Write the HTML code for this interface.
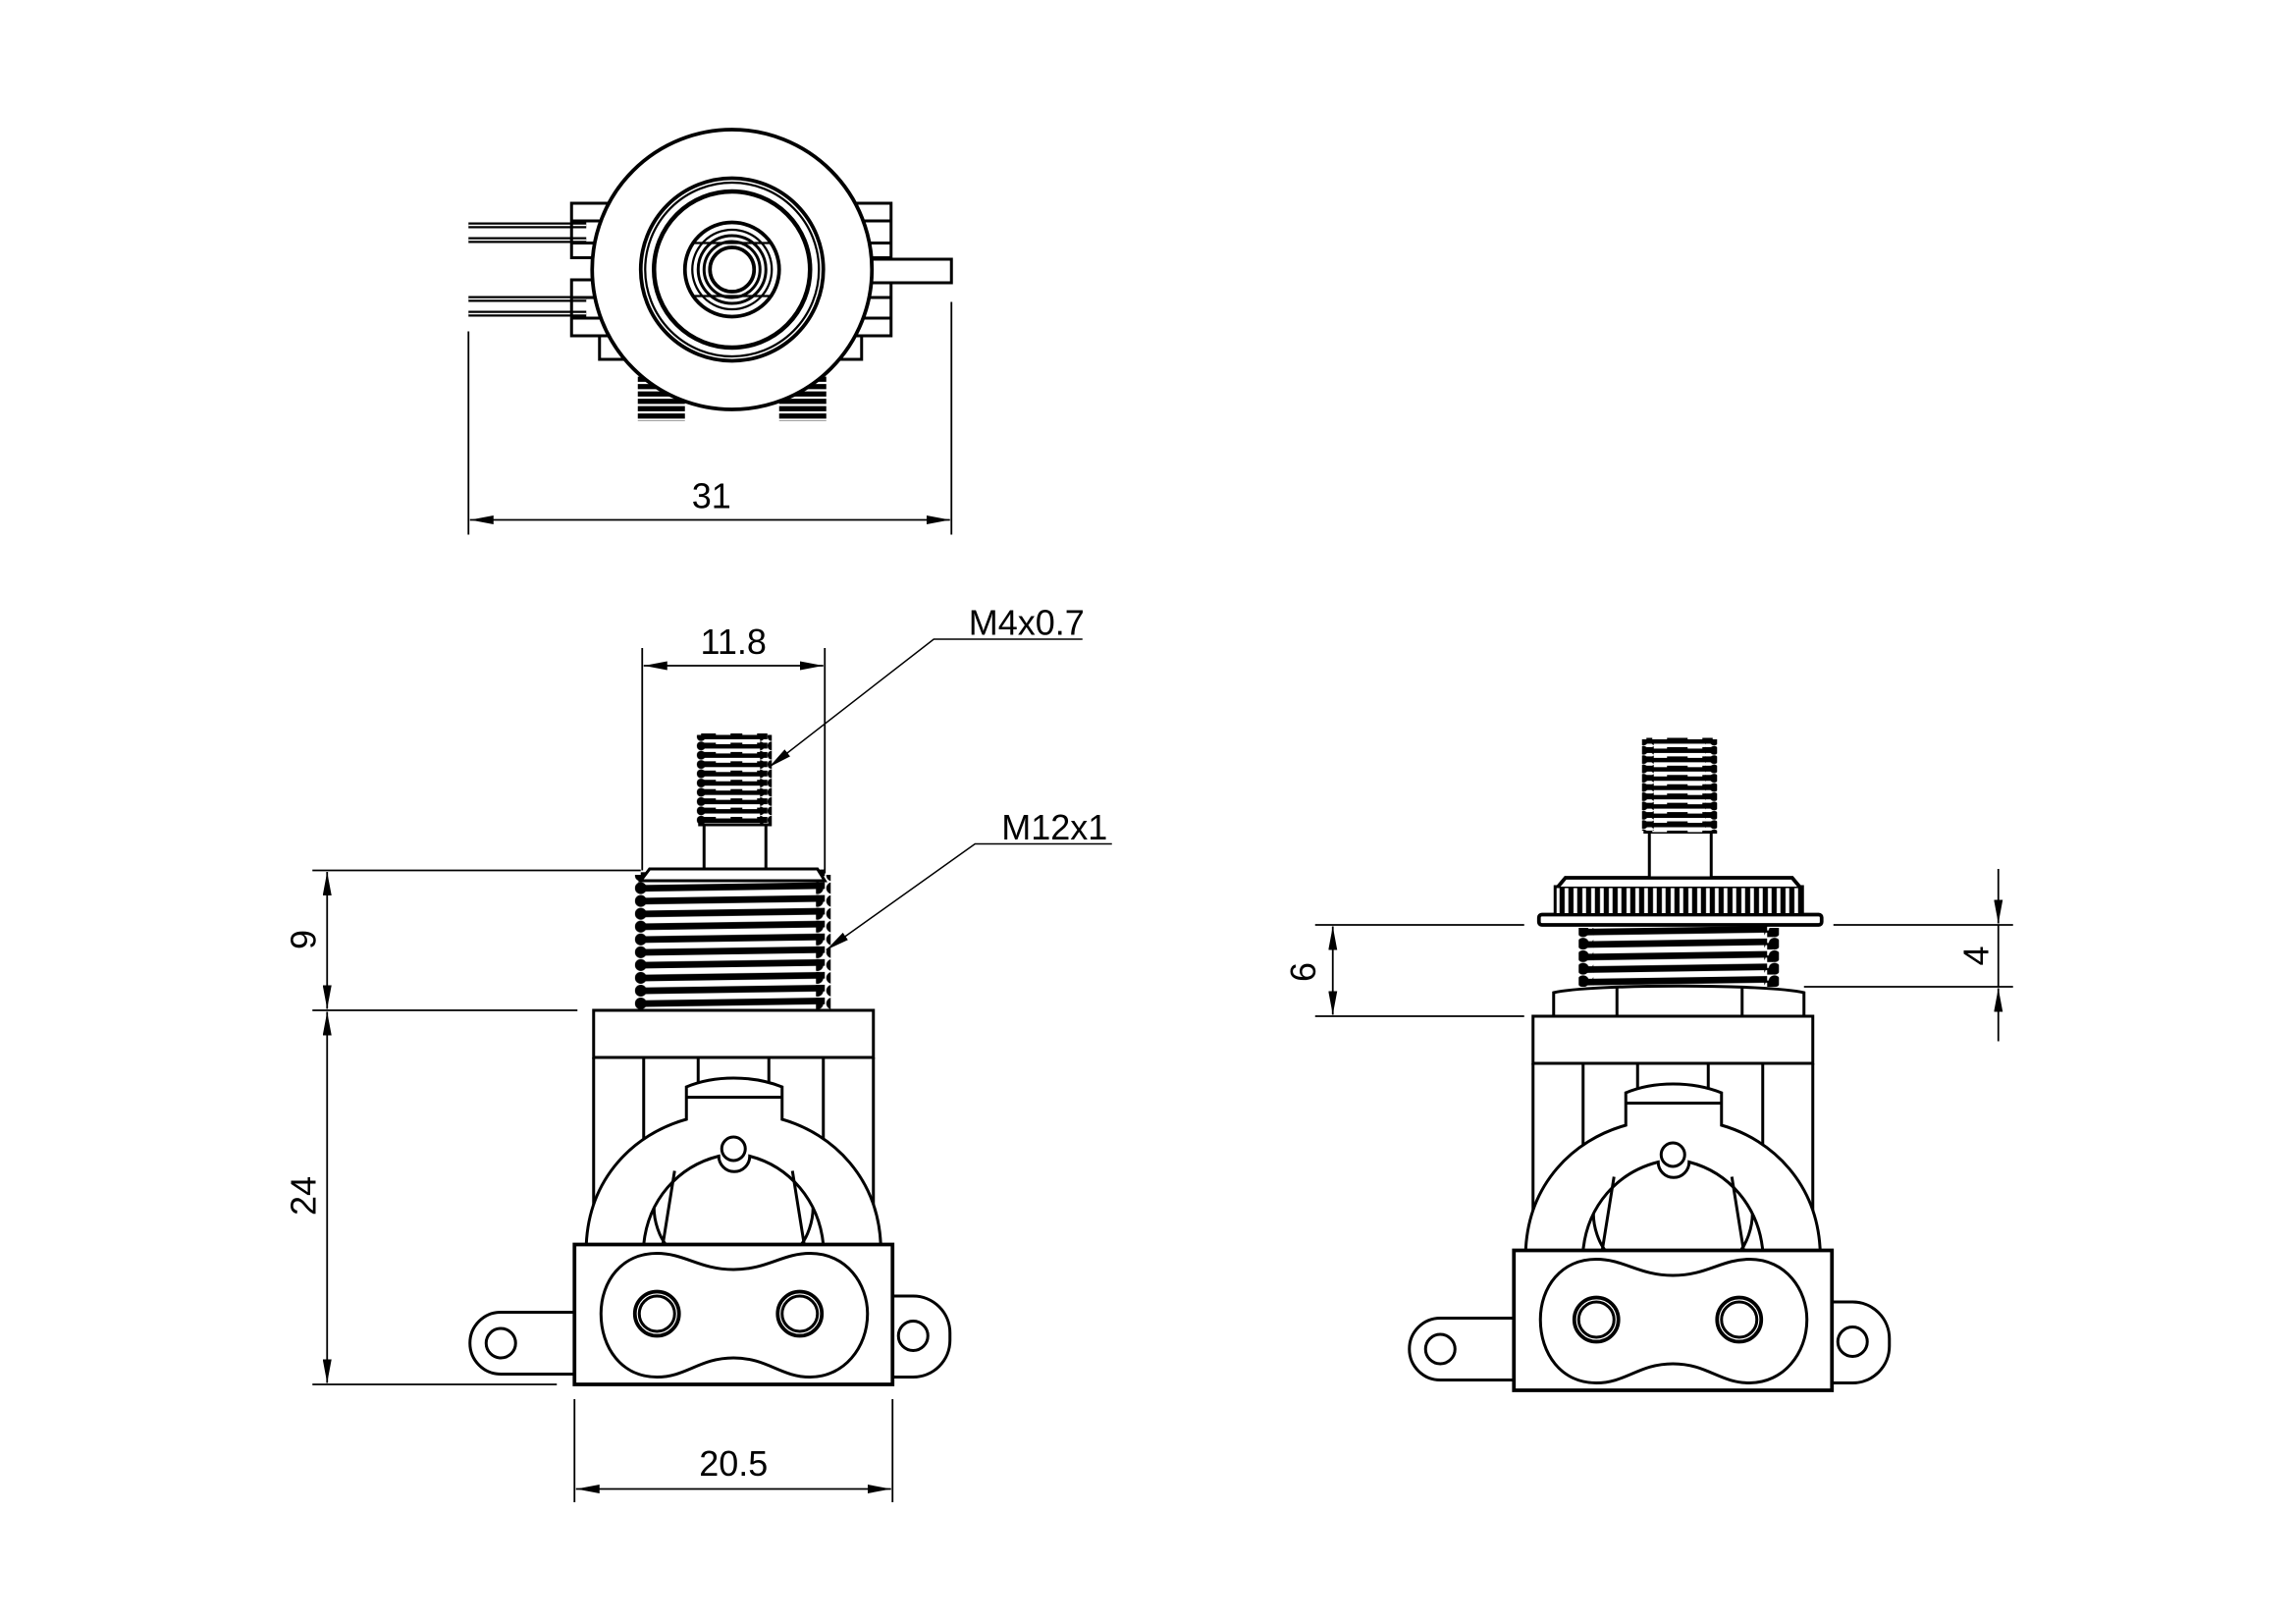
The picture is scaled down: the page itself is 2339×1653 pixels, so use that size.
<!DOCTYPE html>
<html><head><meta charset="utf-8">
<style>
html,body{margin:0;padding:0;background:#fff;}
svg{display:block;}
text{font-family:"Liberation Sans",sans-serif;fill:#000;}
</style></head>
<body>
<svg width="2339" height="1653" viewBox="0 0 1559 1102" xmlns="http://www.w3.org/2000/svg">
<defs>
  <marker id="ar" viewBox="0 0 16 6" refX="16" refY="3" markerWidth="16" markerHeight="6" markerUnits="userSpaceOnUse" orient="auto-start-reverse">
    <path d="M0,0 L16,3 L0,6 Z" fill="#000"/>
  </marker>
  <pattern id="thrBig" patternUnits="userSpaceOnUse" width="200" height="8.7" y="590">
    <path d="M0,5 L200,2" stroke="#000" stroke-width="4.5"/>
  </pattern>
  <pattern id="scBig" patternUnits="userSpaceOnUse" width="10" height="8.7" y="590">
    <circle cx="5" cy="4.35" r="4" fill="#000"/>
  </pattern>
  <pattern id="thrSmall" patternUnits="userSpaceOnUse" width="60" height="6.3" y="497">
    <path d="M0,3 L60,3" stroke="#000" stroke-width="4"/>
    <path d="M6,1.5 L16,1.5 M24,1.5 L34,1.5 M42,1.5 L52,1.5" stroke="#fff" stroke-width="1"/>
  </pattern>
  <pattern id="scSmall" patternUnits="userSpaceOnUse" width="8" height="6.3" y="497">
    <circle cx="4" cy="3.15" r="3" fill="#000"/>
  </pattern>
  <pattern id="thrSmall2" patternUnits="userSpaceOnUse" width="60" height="6.3" y="500">
    <path d="M0,3 L60,3" stroke="#000" stroke-width="4"/>
    <path d="M6,1.5 L16,1.5 M24,1.5 L34,1.5 M42,1.5 L52,1.5" stroke="#fff" stroke-width="1"/>
  </pattern>
  <pattern id="scSmall2" patternUnits="userSpaceOnUse" width="8" height="6.3" y="500">
    <circle cx="4" cy="3.15" r="3" fill="#000"/>
  </pattern>
  <pattern id="thrR" patternUnits="userSpaceOnUse" width="200" height="8.5" y="628">
    <path d="M0,6 L200,3" stroke="#000" stroke-width="4.5"/>
  </pattern>
  <pattern id="scR" patternUnits="userSpaceOnUse" width="10" height="8.5" y="628">
    <circle cx="5" cy="4.25" r="4" fill="#000"/>
  </pattern>
  <pattern id="knurl" patternUnits="userSpaceOnUse" width="6" height="30" x="1055">
    <rect x="0" y="0" width="6" height="30" fill="#000"/>
    <rect x="1.5" y="0" width="2.5" height="30" fill="#fff"/>
  </pattern>
  <pattern id="stubThr" patternUnits="userSpaceOnUse" width="40" height="5" y="255">
    <path d="M0,2.5 L40,2.5" stroke="#000" stroke-width="3.5"/>
  </pattern>

  <g id="body" fill="none" stroke="#000" stroke-width="2">
    <rect x="403" y="686" width="190" height="32"/>
    <line x1="403" y1="718" x2="403" y2="845"/>
    <line x1="593" y1="718" x2="593" y2="845"/>
    <line x1="437" y1="718" x2="437" y2="808"/>
    <line x1="559" y1="718" x2="559" y2="808"/>
    <line x1="474" y1="718" x2="474" y2="742"/>
    <line x1="522" y1="718" x2="522" y2="742"/>
    <path d="M398,845 C400,800 430,770 466,760 L466,738 C485,730 511,730 531,738 L531,760 C566,770 596,800 598,845" fill="#fff"/>
    <path d="M466,745 L531,745" />
    <path d="M437,845 C440,815 460,792 488,785 A10,10 0 0 0 509,785 C536,792 556,815 559,845"/>
    <line x1="458" y1="795" x2="450" y2="845"/>
    <line x1="538" y1="795" x2="546" y2="845"/>
    <path d="M444,820 C444,830 448,840 452,845"/>
    <path d="M552,820 C552,830 548,840 544,845"/>
    <circle cx="498" cy="780" r="8"/>
    <rect x="390" y="845" width="216" height="95" fill="#fff" stroke-width="2.5"/>
    <path d="M446,851 C465,851 475,862 498,862 C521,862 531,851 550,851 C575,851 589,872 589,892 C589,915 573,935 550,935 C530,935 521,922 498,922 C475,922 466,935 446,935 C422,935 408,915 408,892 C408,870 422,851 446,851 Z"/>
    <circle cx="446" cy="892" r="15" stroke-width="2.5"/>
    <circle cx="446" cy="892" r="12"/>
    <circle cx="543" cy="892" r="15" stroke-width="2.5"/>
    <circle cx="543" cy="892" r="12"/>
    <path d="M390,891 L340,891 A21,21 0 0 0 340,933 L390,933"/>
    <circle cx="340" cy="912" r="10"/>
    <path d="M606,880 L620,880 A25,25 0 0 1 645,905 L645,910 A25,25 0 0 1 620,935 L606,935"/>
    <circle cx="620" cy="907" r="10"/>
  </g>
</defs>

<!-- TOP VIEW -->
<g fill="none" stroke="#000" stroke-width="2">
  <g stroke-width="4">
    <line x1="318" y1="153" x2="398" y2="153"/>
    <line x1="318" y1="163" x2="398" y2="163"/>
    <line x1="318" y1="203" x2="398" y2="203"/>
    <line x1="318" y1="213" x2="398" y2="213"/>
  </g>
  <line x1="318" y1="153" x2="398" y2="153" stroke="#fff" stroke-width="1"/>
  <line x1="318" y1="163" x2="398" y2="163" stroke="#fff" stroke-width="1"/>
  <line x1="318" y1="203" x2="398" y2="203" stroke="#fff" stroke-width="1"/>
  <line x1="318" y1="213" x2="398" y2="213" stroke="#fff" stroke-width="1"/>
  <rect x="388" y="138" width="30" height="37"/>
  <line x1="388" y1="150" x2="410" y2="150"/><line x1="388" y1="165" x2="410" y2="165"/>
  <rect x="388" y="190" width="30" height="38"/>
  <line x1="388" y1="202" x2="410" y2="202"/><line x1="388" y1="216" x2="410" y2="216"/>
  <rect x="407" y="228" width="18" height="16"/>
  <rect x="575" y="138" width="30" height="37"/>
  <line x1="585" y1="150" x2="605" y2="150"/><line x1="585" y1="165" x2="605" y2="165"/>
  <rect x="575" y="190" width="30" height="38"/>
  <line x1="585" y1="202" x2="605" y2="202"/><line x1="585" y1="216" x2="605" y2="216"/>
  <rect x="567" y="228" width="18" height="16"/>
  <rect x="585" y="176" width="61" height="16" fill="#fff"/>
  <rect x="433" y="255" width="32" height="31" fill="url(#stubThr)" stroke="none"/>
  <rect x="529" y="255" width="32" height="31" fill="url(#stubThr)" stroke="none"/>
  <circle cx="497" cy="183" r="95" fill="#fff" stroke-width="2.5"/>
  <circle cx="497" cy="183" r="62" stroke-width="2.5"/>
  <circle cx="497" cy="183" r="59" stroke-width="1.5"/>
  <circle cx="497" cy="183" r="53" stroke-width="3"/>
  <circle cx="497" cy="183" r="32" stroke-width="2.5"/>
  <circle cx="497" cy="183" r="27" stroke-width="1.5"/>
  <circle cx="497" cy="183" r="23" stroke-width="2"/>
  <circle cx="497" cy="183" r="19" stroke-width="2"/>
  <circle cx="497" cy="183" r="15" stroke-width="2.5"/>
  <line x1="470" y1="165" x2="524" y2="165" stroke-width="1.5"/>
  <line x1="470" y1="201" x2="524" y2="201" stroke-width="1.5"/>
</g>
<g stroke="#000" stroke-width="1.2" fill="none">
  <line x1="318" y1="225" x2="318" y2="363"/>
  <line x1="646" y1="205" x2="646" y2="363"/>
  <line x1="319" y1="353" x2="645" y2="353" marker-start="url(#ar)" marker-end="url(#ar)"/>
</g>
<text x="483" y="345" font-size="24" text-anchor="middle">31</text>

<!-- FRONT VIEW -->
<use href="#body"/>
<rect x="435" y="590" width="125" height="96" fill="url(#thrBig)"/>
<rect x="431" y="594" width="10" height="92" fill="url(#scBig)"/>
<rect x="554" y="594" width="10" height="92" fill="url(#scBig)"/>
<path d="M441,590 L555,590 L560,598 L435,598 Z" fill="#fff" stroke="#000" stroke-width="2"/>
<rect x="478" y="560" width="42" height="30" fill="#fff" stroke="#000" stroke-width="2"/>
<path d="M474,560 L524,560" stroke="#000" stroke-width="2"/>
<rect x="476" y="497" width="45" height="63" fill="url(#thrSmall)"/>
<rect x="473" y="499" width="8" height="60" fill="url(#scSmall)"/>
<rect x="516" y="499" width="8" height="60" fill="url(#scSmall)"/>

<g stroke="#000" stroke-width="1.2" fill="none">
  <line x1="436" y1="440" x2="436" y2="591"/>
  <line x1="560" y1="440" x2="560" y2="593"/>
  <line x1="437" y1="452" x2="559" y2="452" marker-start="url(#ar)" marker-end="url(#ar)"/>
  <line x1="212" y1="591" x2="435" y2="591"/>
  <line x1="212" y1="686" x2="392" y2="686"/>
  <line x1="212" y1="940" x2="378" y2="940"/>
  <line x1="222" y1="592" x2="222" y2="685" marker-start="url(#ar)" marker-end="url(#ar)"/>
  <line x1="222" y1="687" x2="222" y2="939" marker-start="url(#ar)" marker-end="url(#ar)"/>
  <line x1="390" y1="950" x2="390" y2="1020"/>
  <line x1="606" y1="950" x2="606" y2="1020"/>
  <line x1="391" y1="1011" x2="605" y2="1011" marker-start="url(#ar)" marker-end="url(#ar)"/>
  <polyline points="735,434 634,434 522,521" stroke-width="1" marker-end="url(#ar)"/>
  <polyline points="755,573 662,573 561,645" stroke-width="1" marker-end="url(#ar)"/>
</g>
<text x="498" y="444" font-size="24" text-anchor="middle">11.8</text>
<text x="697" y="431" font-size="24" text-anchor="middle">M4x0.7</text>
<text x="716" y="570" font-size="24" text-anchor="middle">M12x1</text>
<text transform="translate(214,638) rotate(-90)" font-size="24" text-anchor="middle">9</text>
<text transform="translate(214,812) rotate(-90)" font-size="24" text-anchor="middle">24</text>
<text x="498" y="1002" font-size="24" text-anchor="middle">20.5</text>

<!-- SIDE VIEW -->
<use href="#body" transform="translate(638,4)"/>
<g fill="#fff" stroke="#000" stroke-width="2">
  <path d="M1055,674 C1080,668 1200,668 1225,674 L1225,690 L1055,690 Z"/>
  <line x1="1098" y1="671" x2="1098" y2="690"/>
  <line x1="1183" y1="671" x2="1183" y2="690"/>
</g>
<rect x="1076" y="628" width="128" height="42" fill="url(#thrR)"/>
<rect x="1072" y="630" width="10" height="40" fill="url(#scR)"/>
<rect x="1198" y="630" width="10" height="40" fill="url(#scR)"/>
<rect x="1045" y="621" width="192" height="7" rx="2" fill="#fff" stroke="#000" stroke-width="2.5"/>
<rect x="1056" y="602" width="168" height="19" fill="url(#knurl)" stroke="#000" stroke-width="2"/>
<path d="M1058,602 L1063,596 L1217,596 L1222,602" fill="#fff" stroke="#000" stroke-width="2.5"/>
<rect x="1120" y="565" width="42" height="31" fill="#fff" stroke="#000" stroke-width="2"/>
<path d="M1116,565 L1166,565" stroke="#000" stroke-width="2"/>
<rect x="1118" y="500" width="45" height="65" fill="url(#thrSmall2)"/>
<rect x="1115" y="502" width="8" height="62" fill="url(#scSmall2)"/>
<rect x="1158" y="502" width="8" height="62" fill="url(#scSmall2)"/>

<g stroke="#000" stroke-width="1.2" fill="none">
  <line x1="893" y1="628" x2="1035" y2="628"/>
  <line x1="893" y1="690" x2="1035" y2="690"/>
  <line x1="905" y1="629" x2="905" y2="689" marker-start="url(#ar)" marker-end="url(#ar)"/>
  <line x1="1245" y1="628" x2="1367" y2="628"/>
  <line x1="1225" y1="670" x2="1367" y2="670"/>
  <line x1="1357" y1="590" x2="1357" y2="627" marker-end="url(#ar)"/>
  <line x1="1357" y1="707" x2="1357" y2="671" marker-end="url(#ar)"/>
  <line x1="1357" y1="628" x2="1357" y2="670"/>
</g>
<text transform="translate(893,660) rotate(-90)" font-size="24" text-anchor="middle">6</text>
<text transform="translate(1350,649) rotate(-90)" font-size="24" text-anchor="middle">4</text>
</svg>
</body></html>
